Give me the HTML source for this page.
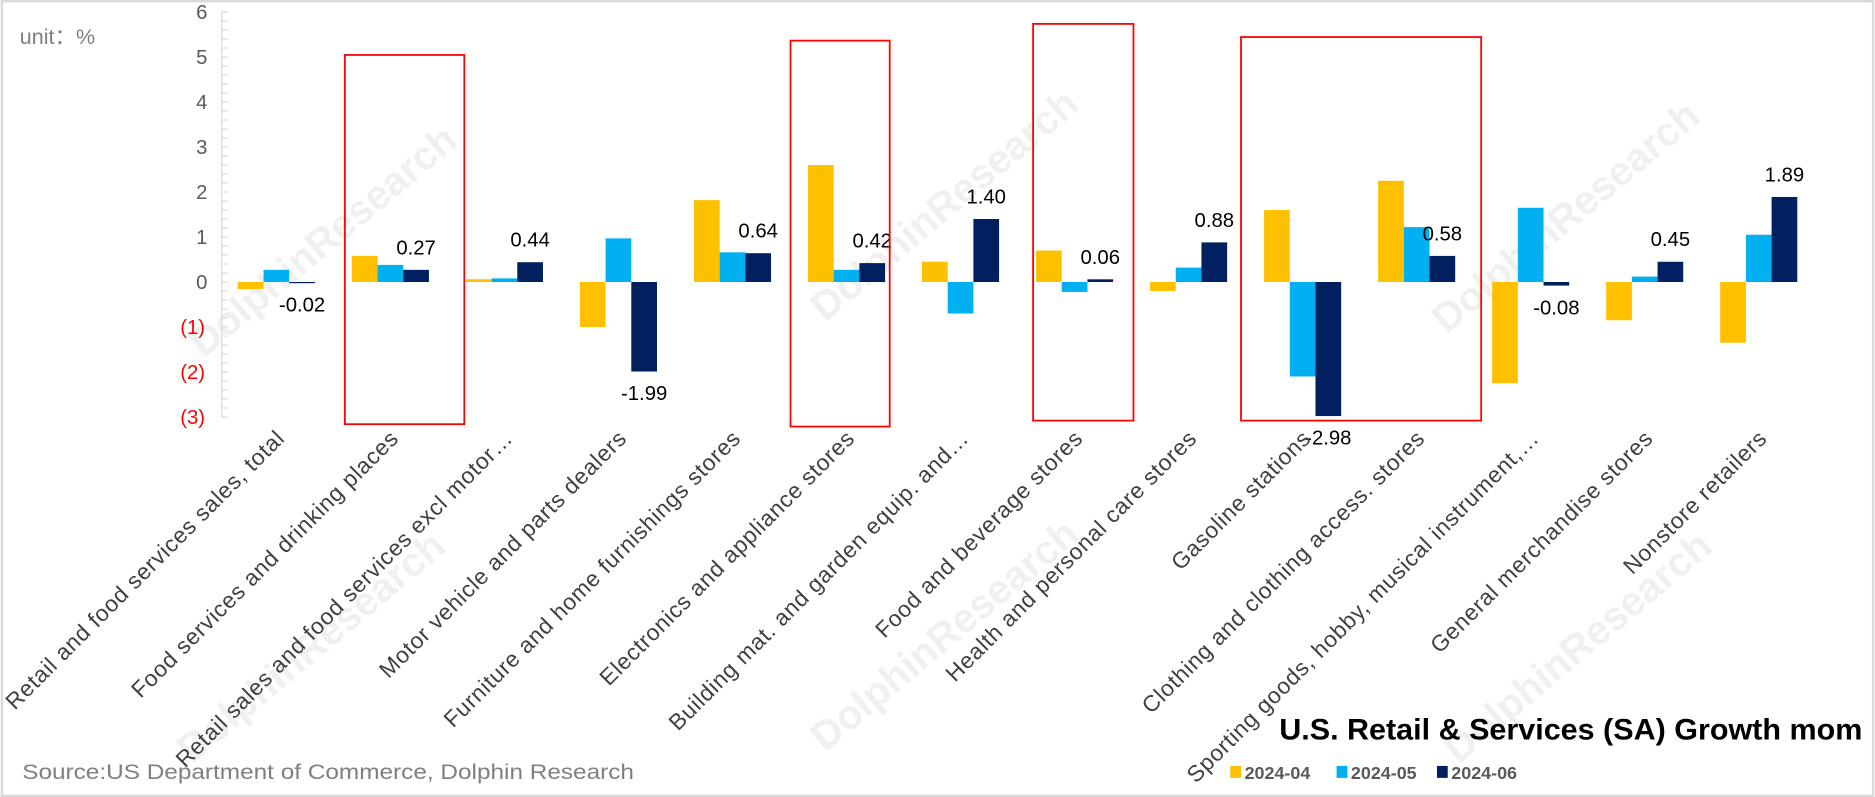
<!DOCTYPE html>
<html><head><meta charset="utf-8"><style>
html,body{margin:0;padding:0;background:#fff}
svg{display:block;font-family:"Liberation Sans","Noto Sans CJK SC",sans-serif}
</style></head><body>
<svg width="1875" height="797" viewBox="0 0 1568 667" id="chart">
<rect x="1" y="1" width="1566" height="665" fill="#fff" stroke="#d9d9d9" stroke-width="2"/>
<g id="wm" fill="#f0f0f0" font-size="34" font-weight="bold">
<text transform="translate(170,300) rotate(-40)">DolphinResearch</text>
<text transform="translate(690,270) rotate(-40)">DolphinResearch</text>
<text transform="translate(1210,280) rotate(-40)">DolphinResearch</text>
<text transform="translate(160,640) rotate(-40)">DolphinResearch</text>
<text transform="translate(690,630) rotate(-40)">DolphinResearch</text>
<text transform="translate(1220,640) rotate(-40)">DolphinResearch</text>
</g>
<text x="16" y="37" font-size="18" fill="#7f7f7f">unit：%</text>
<g id="axis"></g>
<g id="bars"></g>
<g id="labels"></g>
<g id="xlabels"></g>
<g fill="none" stroke="#ff0000" stroke-width="1.5">
<rect x="288" y="46" width="100" height="309"/>
<rect x="661" y="34" width="83" height="323"/>
<rect x="864" y="20" width="84" height="332"/>
<rect x="1038" y="31" width="201" height="321"/>
</g>
<text x="1558" y="619" text-anchor="end" font-size="25" font-weight="bold" fill="#000" textLength="488" lengthAdjust="spacingAndGlyphs">U.S. Retail &amp; Services (SA) Growth mom</text>
<text x="18" y="652" font-size="18" fill="#7f7f7f" textLength="512" lengthAdjust="spacingAndGlyphs">Source:US Department of Commerce, Dolphin Research</text>
<g id="legend" font-size="15" font-weight="bold" fill="#595959"></g>
</svg>
<script>
const categories=["Retail and food services sales, total","Food services and drinking places","Retail sales and food services excl motor…","Motor vehicle and parts dealers","Furniture and home furnishings stores","Electronics and appliance stores","Building mat. and garden equip. and…","Food and beverage stores","Health and personal care stores","Gasoline stations","Clothing and clothing access. stores","Sporting goods, hobby, musical instrument,…","General merchandise stores","Nonstore retailers"];
const seriesNames=["2024-04","2024-05","2024-06"];
const s2404=[-0.16,0.58,0.06,-1.0,1.82,2.6,0.45,0.7,-0.2,1.6,2.25,-2.25,-0.85,-1.35];
const s2405=[0.27,0.38,0.08,0.97,0.66,0.27,-0.7,-0.22,0.32,-2.1,1.22,1.65,0.12,1.05];
const s2406=[-0.02,0.27,0.44,-1.99,0.64,0.42,1.40,0.06,0.88,-2.98,0.58,-0.08,0.45,1.89];
const yTicks=[6,5,4,3,2,1,0,-1,-2,-3];
const yTickLabels=["6","5","4","3","2","1","0","(1)","(2)","(3)"];
const colors=["#ffc000","#00b0f0","#002060"];
const NS="http://www.w3.org/2000/svg";
const X0=185,PW=1336,Y0=236,PU=37.65;
const y=v=>Y0-v*PU;
const bw=PW/categories.length;
const xc=i=>X0+bw*(i+0.5)-2;
function mk(t,a,p){const e=document.createElementNS(NS,t);for(const k in a)e.setAttribute(k,a[k]);p.appendChild(e);return e;}
const ax=document.getElementById('axis');
const al=mk('line',{x1:X0,y1:y(6),x2:X0,y2:y(-3),stroke:'#d9d9d9','stroke-width':1},ax);


for(let v=-3;v<=6.001;v+=0.2){const t=mk('line',{x1:X0,y1:y(v),x2:X0+5,y2:y(v),stroke:'#d9d9d9'},ax);

}
yTicks.forEach((v,i)=>{const t=mk('text',{x:v<0?X0-14:X0-12,y:y(v)+6,'text-anchor':'end','font-size':17,fill:v<0?'#ff0000':'#595959'},ax);t.textContent=yTickLabels[i];

});
const bg=document.getElementById('bars'),lg=document.getElementById('labels'),xg=document.getElementById('xlabels');
const series=[s2404,s2405,s2406];
const bWid=21.5;
categories.forEach((c,i)=>{
 series.forEach((s,k)=>{const v=s[i];const x=xc(i)+(k-1.5)*bWid;
  const r=mk('rect',{x:x,y:Math.min(y(v),y(0)),width:bWid,height:Math.max(Math.abs(y(v)-y(0)),1),fill:colors[k]},bg);
  
  });
 const v=s2406[i];const lx=xc(i)+bWid;
 const t=mk('text',{x:lx,y:v>=0?y(v)-13:y(v)+24,'text-anchor':'middle','font-size':17,fill:'#000'},lg);
 t.textContent=v.toFixed(2);
 
 
 const xl=mk('text',{transform:`translate(${xc(i)+8},${368}) rotate(-45)`,'text-anchor':'end','font-size':19,fill:'#404040','letter-spacing':'0.6'},xg);
 xl.textContent=c;
 
 
});
const L=document.getElementById('legend');
const lx0=[1029,1118,1202];
seriesNames.forEach((n,k)=>{const r=mk('rect',{x:lx0[k],y:641,width:9,height:10,fill:colors[k]},L);
 
 
 const t=mk('text',{x:lx0[k]+12,y:652},L);t.textContent=n;
 
 });
</script>
</body></html>
